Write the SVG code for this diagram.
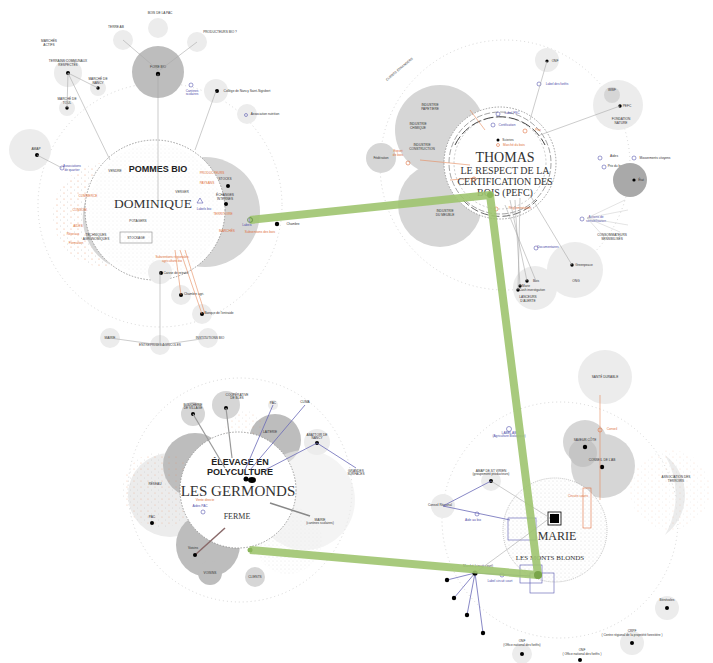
<svg xmlns="http://www.w3.org/2000/svg" width="713" height="663" viewBox="0 0 713 663">
<style>
.t{font-family:"Liberation Sans",Arial,sans-serif;fill:#333;font-size:3.2px;text-anchor:middle}
.tb{fill:#4a4aa8}.to{fill:#e0703a}
.big{font-family:"Liberation Serif","Times New Roman",serif;fill:#333;text-anchor:middle}
.hd{font-family:"Liberation Sans",Arial,sans-serif;font-weight:bold;fill:#222;text-anchor:middle}
.g1{fill:#ececec}.g2{fill:#d6d6d6}.g3{fill:#bdbdbd}.g4{fill:#a9a9a9}
.dot{fill:#000}
.ring{fill:#fff;stroke:#888;stroke-width:0.8;stroke-dasharray:1.5 1.5}
.orb{fill:none;stroke:#ccc;stroke-width:0.8;stroke-dasharray:1 3}
.ln{stroke:#aaa;stroke-width:0.6;fill:none}
.lb{stroke:#6a6ab8;stroke-width:0.8;fill:none}
.lo{stroke:#e58a5a;stroke-width:0.6;fill:none}
.oc{fill:none;stroke:#e07040;stroke-width:0.6}
.bc{fill:none;stroke:#5858b0;stroke-width:0.6}
.green{stroke:#9fc46f;stroke-width:8;fill:none;stroke-linejoin:round;opacity:0.9}
</style>
<defs>
<pattern id="od" width="7" height="6" patternUnits="userSpaceOnUse"><circle cx="1" cy="1" r="0.6" fill="#e58a5a"/><circle cx="4.5" cy="4" r="0.5" fill="#bbb"/></pattern>
<pattern id="gd" width="4" height="4" patternUnits="userSpaceOnUse"><circle cx="1" cy="1" r="0.5" fill="#999"/><circle cx="3" cy="3" r="0.4" fill="#bbb"/></pattern>
</defs>
<rect width="713" height="663" fill="#fff"/>

<!-- orbits -->
<g id="orbits">
<circle class="orb" cx="160" cy="205" r="122"/>
<circle class="orb" cx="505" cy="165" r="125"/>
<circle class="orb" cx="240" cy="490" r="112"/>
<circle class="orb" cx="560" cy="520" r="118"/>
</g>

<!-- Dominique node -->
<g id="dominique">
<circle cx="205" cy="212" r="55" class="g2"/>
<circle cx="105" cy="215" r="52" fill="url(#od)" opacity="0.7"/>
<path d="M110,170 A70,70 0 0 0 110,265 A55,55 0 0 1 110,170Z" class="g2"/>
<circle cx="155" cy="210" r="70" class="ring"/>
<circle cx="155" cy="210" r="66" fill="url(#gd)" opacity="0.25"/>
<text class="hd" x="158" y="172" font-size="9">POMMES BIO</text>
<text class="big" x="153" y="208" font-size="13.5">DOMINIQUE</text>
<text class="t" x="182" y="193" font-size="4.5">VERGER</text>
<text class="t" x="138" y="222" font-size="4.5">POTAGERS</text>
<rect x="120" y="232" width="32" height="11" fill="none" stroke="#999" stroke-width="0.7"/>
<text class="t" x="136" y="239" font-size="3.5">STOCKAGE</text>
<text class="t" x="115" y="172">VENDRE</text>
<g><text class="t to" x="88" y="197">COMMERCE</text><text class="t to" x="80" y="211">CONSOM.</text><text class="t to" x="78" y="227">AIDES</text><text class="t to" x="73" y="235">Réseaux</text><text class="t to" x="76" y="244">Formation</text><text class="t to" x="212" y="174">PRODUCTEURS</text><text class="t to" x="207" y="184">PAYSANS</text><text class="t to" x="223" y="215">TERRITOIRE</text><text class="t to" x="227" y="232">MARCHÉS</text></g>
<text class="t" x="225" y="180">STOCKS</text><circle cx="228" cy="186" r="2" class="dot"/>
<text class="t" x="225" y="196">ÉCHANGES</text><text class="t" x="225" y="200">INTERNES</text><circle cx="226" cy="204" r="2" class="dot"/>
<text class="t" x="96" y="236">TECHNIQUES</text><text class="t" x="96" y="240">AGRONOMIQUES</text>
<path d="M197,203 l3,-5 l3,5z" fill="none" stroke="#5858b0" stroke-width="0.6"/>
<text class="t tb" x="204" y="210">Labels bio</text>
</g>

<!-- Dominique satellites -->
<g id="dom-sat">
<circle cx="158" cy="72" r="26" class="g3"/>
<circle cx="158" cy="74" r="2.2" class="dot"/>
<text class="t" x="158" y="68">FOIRE BIO</text>
<circle cx="123" cy="40" r="10" class="g1"/><text class="t" x="116" y="28">TERRE AB</text>
<circle cx="158" cy="28" r="10" class="g1"/><text class="t" x="160" y="14">BOIS DE LA PAC</text>
<circle cx="197" cy="42" r="10" class="g1"/><text class="t" x="220" y="33">PRODUCTEURS BIO ?</text>
<text class="t" x="49" y="42">MARCHÉS</text><text class="t" x="49" y="46">ACTIFS</text>
<circle cx="68" cy="73" r="14" class="g1"/><circle cx="68" cy="73" r="2" class="dot"/>
<text class="t" x="68" y="62">TERRAINS COMMUNAUX</text><text class="t" x="68" y="66">RESPECTÉS</text>
<circle cx="98" cy="88" r="8" class="g1"/><circle cx="98" cy="88" r="1.7" class="dot"/><text class="t" x="98" y="80">MARCHÉ DE</text><text class="t" x="98" y="84">NANCY</text>
<circle cx="67" cy="108" r="8" class="g1"/><circle cx="67" cy="108" r="1.7" class="dot"/><text class="t" x="67" y="100">MARCHÉ DE</text><text class="t" x="67" y="104">TOUL</text>
<circle cx="30" cy="150" r="21" class="g1"/><circle cx="37" cy="155" r="2" class="dot"/><text class="t" x="36" y="150">AMAP</text>
<circle cx="62" cy="168" r="2" class="bc"/><text class="t tb" x="72" y="167">Associations</text><text class="t tb" x="72" y="171">de quartier</text>
<circle cx="216" cy="91" r="12" class="g1"/><circle cx="217" cy="91" r="2" class="dot"/><text class="t" x="247" y="92">Collège de Nancy Saint-Sigisbert</text>
<circle cx="191" cy="85" r="2" class="bc"/><text class="t tb" x="192" y="92">Cantines</text><text class="t tb" x="192" y="95">scolaires</text>
<circle cx="247" cy="114" r="10" class="g1"/><circle cx="246" cy="115" r="1.5" class="bc"/><text class="t" x="265" y="115">Association nutrition</text>
<circle cx="160" cy="272" r="12" class="g1"/><circle cx="161" cy="273" r="2" class="dot"/><text class="t" x="176" y="274">Caisse de retraite</text>
<circle cx="181" cy="295" r="10" class="g1"/><circle cx="181" cy="295" r="2" class="dot"/><text class="t" x="194" y="295">Chambre agri.</text>
<circle cx="202" cy="314" r="10" class="g1"/><circle cx="202" cy="314" r="2" class="dot"/><text class="t" x="219" y="314">Banque de l'entraide</text>
<circle cx="110" cy="338" r="10" class="g1"/><text class="t" x="110" y="339">MAIRIE</text>
<circle cx="160" cy="345" r="10" class="g1"/><text class="t" x="160" y="346">ENTREPRISES AGRICOLES</text>
<circle cx="208" cy="338" r="10" class="g1"/><text class="t" x="210" y="339">INSTITUTIONS BIO</text>
<text class="t to" x="172" y="258">Subventions régionales</text><text class="t to" x="172" y="262">agriculture bio</text>
</g>

<!-- Thomas node -->
<g id="thomas">
<circle cx="440" cy="130" r="45" class="g2"/>
<circle cx="440" cy="205" r="42" class="g2"/>
<circle cx="381" cy="158" r="15" class="g2"/><text class="t" x="381" y="159">Fédération</text>
<circle cx="500" cy="163" r="56" fill="#fff"/>
<circle cx="500" cy="163" r="56" class="ring"/>
<circle cx="500" cy="163" r="51" fill="none" stroke="#666" stroke-width="0.6" stroke-dasharray="6 2"/>
<circle cx="500" cy="163" r="46" fill="none" stroke="#999" stroke-width="0.5" stroke-dasharray="2 2"/>
<path d="M455,145 A50,50 0 0 1 545,145" fill="none" stroke="#444" stroke-width="1" stroke-dasharray="10 3"/>
<path d="M463,200 A50,50 0 0 0 537,200" fill="none" stroke="#444" stroke-width="0.8" stroke-dasharray="8 3"/>
<g class="lo"><path d="M420,160 L470,165"/><path d="M450,180 L475,178"/><path d="M470,110 L485,130"/></g>
<text class="big" x="505" y="162" font-size="14">THOMAS</text>
<text class="big" x="505" y="174" font-size="10">LE RESPECT DE LA</text>
<text class="big" x="505" y="185" font-size="10">CERTIFICATION DES</text>
<text class="big" x="505" y="196" font-size="10">BOIS (PEFC)</text>
<text class="t" x="430" y="106">INDUSTRIE</text><text class="t" x="430" y="110">PAPETIERE</text>
<text class="t" x="418" y="125">INDUSTRIE</text><text class="t" x="418" y="129">CHIMIQUE</text>
<text class="t" x="422" y="146">INDUSTRIE</text><text class="t" x="422" y="150">CONSTRUCTION</text>
<text class="t" x="445" y="212">INDUSTRIE</text><text class="t" x="445" y="216">DU MEUBLE</text>
<circle cx="498" cy="140" r="1.5" class="dot"/><text class="t" x="508" y="141">Scieries</text>
<circle cx="498" cy="145" r="1.5" class="oc"/><text class="t to" x="514" y="146">Marché du bois</text>
<circle cx="498" cy="114" r="2" class="bc"/><text class="t tb" x="512" y="114">Label FSC</text>
<circle cx="493" cy="125" r="2" class="bc"/><text class="t tb" x="507" y="126">Certification</text>
<circle cx="525" cy="131" r="2" class="oc"/><text class="t to" x="538" y="131">Prix</text>
<circle cx="408" cy="163" r="2" class="oc"/><text class="t to" x="398" y="152">Export</text><text class="t to" x="398" y="156">de bois</text>
<circle cx="496" cy="209" r="2" class="oc"/><text class="t to" x="520" y="209">Réglementation</text>
<circle cx="474" cy="179" r="2" class="oc"/>
<circle cx="600" cy="158" r="2" class="bc"/><text class="t" x="614" y="157">Aides</text>
<circle cx="604" cy="167" r="2" class="bc"/><text class="t" x="616" y="167">Prix du bois</text>
<circle cx="634" cy="158" r="2" class="bc"/><text class="t" x="655" y="159">Mouvements citoyens</text>
</g>

<!-- Thomas satellites -->
<g id="thomas-sat">
<circle cx="547" cy="60" r="12" class="g1"/><circle cx="547" cy="61" r="1.6" class="dot"/><text class="t" x="555" y="62">ONF</text>
<circle cx="539" cy="84" r="2" class="bc"/><text class="t tb" x="557" y="85">Label des forêts</text>
<circle cx="618" cy="105" r="25" class="g1"/><circle cx="612" cy="95" r="8" class="g2"/><circle cx="620" cy="106" r="1.7" class="dot"/>
<text class="t" x="612" y="91">WWF</text><text class="t" x="627" y="107">PEFC</text><text class="t" x="621" y="120">FONDATION</text><text class="t" x="621" y="124">NATURE</text>
<circle cx="630" cy="180" r="17" class="g4"/><circle cx="634" cy="180" r="1.6" class="dot"/><text class="t" x="641" y="181">État</text>
<circle cx="535" cy="288" r="22" class="g1"/><circle cx="527" cy="281" r="1.7" class="dot"/><circle cx="520" cy="286" r="1.7" class="dot"/><circle cx="518" cy="290" r="1.7" class="dot"/>
<text class="t" x="536" y="282">Bois</text><text class="t" x="526" y="287">Marie</text><text class="t" x="532" y="291">Cash investigation</text><text class="t" x="528" y="298">LANCEURS</text><text class="t" x="528" y="302">D'ALERTE</text>
<circle cx="575" cy="270" r="28" class="g1"/><circle cx="572" cy="265" r="1.7" class="dot"/><text class="t" x="584" y="266">Greenpeace</text><text class="t" x="576" y="282">ONG</text>
<circle cx="536" cy="248" r="2" class="bc"/><text class="t tb" x="548" y="248">Documentaires</text>
<circle cx="582" cy="219" r="2" class="bc"/><text class="t tb" x="596" y="218">Actions de</text><text class="t tb" x="596" y="222">sensibilisation</text>
<g stroke="#bbb" stroke-width="0.4"><path d="M587,218 L625,200 M587,218 L628,210 M587,218 L628,225 M587,218 L620,232 M587,218 L605,238"/></g>
<text class="t" x="612" y="236">CONSOMMATEURS</text><text class="t" x="612" y="240">SENSIBILISÉS</text>
<g class="ln"><path d="M530,120 L547,61"/><path d="M540,135 L620,106"/><path d="M510,200 L527,281"/><path d="M515,200 L520,286"/><path d="M520,198 L518,290"/><path d="M530,195 L572,265"/><path d="M505,205 L536,281"/></g>
<text class="t" x="400" y="70" transform="rotate(-40 400 70)">CLIENTS ÉTRANGERS</text>
</g>

<!-- Germonds node -->
<g id="germonds">
<circle cx="170" cy="495" r="42" class="g1"/>
<circle cx="195" cy="465" r="32" class="g3"/>
<circle cx="160" cy="490" r="38" fill="url(#od)" opacity="0.5"/>
<circle cx="275" cy="440" r="26" class="g3"/>
<circle cx="245" cy="430" r="20" fill="url(#od)" opacity="0.4"/>
<circle cx="208" cy="545" r="32" class="g3"/>
<circle cx="288" cy="540" r="34" fill="url(#gd)" opacity="0.3"/>
<circle cx="305" cy="500" r="50" class="g1" opacity="0.6"/>
<circle cx="238" cy="490" r="58" fill="#fff"/>
<circle cx="238" cy="490" r="58" fill="url(#od)" opacity="0.35"/>
<circle cx="238" cy="490" r="58" class="ring" fill="none"/>
<text class="hd" x="240" y="465" font-size="9">ÉLEVAGE EN</text>
<text class="hd" x="240" y="475" font-size="9">POLYCULTURE</text>
<ellipse cx="252" cy="480" rx="4" ry="3" fill="#000"/><ellipse cx="246" cy="479" rx="2.5" ry="2.5" fill="#000"/>
<text class="big" x="238" y="496" font-size="15">LES GERMONDS</text>
<text class="big" x="237" y="519" font-size="8">FERME</text>
<text class="t to" x="205" y="501">Vente directe</text>
<circle cx="203" cy="512" r="2" class="bc"/><text class="t tb" x="200" y="507">Aides PAC</text>
<path d="M270,503 L310,516" stroke="#888" stroke-width="1.5"/>
<text class="t" x="320" y="521">MAIRIE</text><text class="t" x="320" y="524">(cantines scolaires)</text>
<path d="M195,555 L225,528" stroke="#8a6a6a" stroke-width="1.5"/>
</g>

<!-- Germonds satellites -->
<g id="germonds-sat">
<circle cx="193" cy="414" r="12" class="g2"/><circle cx="193" cy="414" r="2" class="dot"/><text class="t" x="193" y="406">BOUCHERIE</text><text class="t" x="193" y="409">DE VILLAGE</text>
<circle cx="226" cy="405" r="14" class="g2"/><circle cx="226" cy="408" r="2" class="dot"/><text class="t" x="237" y="396">COOPÉRATIVE</text><text class="t" x="237" y="399">DE BLÉS</text>
<circle cx="273" cy="405" r="5" class="g1"/><text class="t" x="273" y="404">PAC</text>
<circle cx="305" cy="405" r="4" fill="#fff"/><text class="t" x="305" y="403">CUMA</text>
<text class="t" x="270" y="433">LAITERIE</text>
<circle cx="317" cy="442" r="13" class="g1"/><circle cx="317" cy="443" r="2" class="dot"/><text class="t" x="317" y="436">ABATTOIR DE</text><text class="t" x="317" y="439">NANCY</text>
<text class="t" x="356" y="472">GRANDES</text><text class="t" x="356" y="475">SURFACES</text>
<text class="t" x="155" y="485">RÉSEAU</text>
<circle cx="152" cy="523" r="2" class="dot"/><text class="t" x="152" y="518">PAC</text>
<circle cx="195" cy="555" r="2" class="dot"/><text class="t" x="193" y="549">Voisins</text>
<circle cx="210" cy="573" r="12" class="g3"/><text class="t" x="210" y="574">VOISINS</text>
<circle cx="255" cy="577" r="10" class="g2"/><text class="t" x="255" y="578">CLIENTS</text>
<g class="lb"><path d="M273,405 L245,470"/><path d="M305,405 L250,470"/><path d="M317,443 L265,470"/><path d="M317,443 L356,468"/></g>
<g stroke="#999" stroke-width="1.2"><path d="M193,414 L225,468"/><path d="M226,408 L232,458"/></g>
</g>

<!-- Marie node -->
<g id="marie">
<circle cx="605" cy="377" r="27" class="g1"/><text class="t" x="605" y="378">SANTÉ DURABLE</text>
<circle cx="585" cy="442" r="22" class="g2"/>
<circle cx="603" cy="466" r="32" class="g2"/>
<circle cx="583" cy="453" r="14" class="g3" opacity="0.7"/>
<circle cx="585" cy="447" r="2.2" class="dot"/><text class="t" x="585" y="441">SAVEUR CÔTE</text>
<circle cx="602" cy="467" r="2.2" class="dot"/><text class="t" x="602" y="461">CONSEIL DE L'AB</text>
<circle cx="600" cy="430" r="2" class="oc"/><text class="t to" x="612" y="430">Conseil</text>
<path d="M600,395 L600,500" class="lo"/>
<path d="M665,455 A50,50 0 0 1 665,535 A80,80 0 0 0 665,455Z" class="g1"/>
<circle cx="670" cy="490" r="40" fill="url(#od)" opacity="0.3"/>
<text class="t" x="676" y="478">ASSOCIATION DES</text><text class="t" x="676" y="482">TERROIRS</text>
<circle cx="555" cy="530" r="52" fill="#fff"/>
<circle cx="555" cy="530" r="52" fill="url(#gd)" opacity="0.45"/>
<circle cx="555" cy="530" r="52" fill="none" stroke="#999" stroke-width="0.6" stroke-dasharray="1 1"/>
<rect x="508" y="518" width="28" height="22" fill="none" stroke="#5858b0" stroke-width="0.6"/>
<rect x="520" y="565" width="22" height="18" fill="none" stroke="#5858b0" stroke-width="0.6"/>
<rect x="530" y="573" width="24" height="20" fill="none" stroke="#5858b0" stroke-width="0.6"/>
<rect x="583" y="488" width="8" height="40" fill="none" stroke="#e07040" stroke-width="0.6"/>
<text class="t to" x="578" y="497">Circuits courts</text>
<rect x="550" y="514" width="9" height="9" fill="#000"/><rect x="548" y="512" width="13" height="13" fill="none" stroke="#000" stroke-width="0.8"/>
<text class="big" x="557" y="540" font-size="12">MARIE</text>
<text class="big" x="550" y="560" font-size="7">LES MONTS BLONDS</text>
</g>

<!-- Marie satellites -->
<g id="marie-sat">
<circle cx="509" cy="429" r="2.5" class="bc"/><text class="t tb" x="509" y="434">LABEL AB</text><text class="t tb" x="509" y="437">(Agriculture Biologique)</text>
<circle cx="491" cy="481" r="10" class="g1"/><circle cx="491" cy="481" r="2" class="dot"/><text class="t" x="491" y="472">AMAP DE ST VIRIEN</text><text class="t" x="491" y="475">(groupement producteurs)</text>
<circle cx="443" cy="506" r="12" class="g1"/><text class="t" x="440" y="506">Conseil Régional</text>
<circle cx="477" cy="514" r="2" class="bc"/><text class="t tb" x="473" y="521">Aide au bio</text>
<g class="lb"><path d="M475,573 L447,580"/><path d="M475,573 L454,598"/><path d="M475,573 L467,615"/><path d="M475,573 L483,633"/><path d="M475,573 L530,576"/><path d="M491,481 L443,506"/><path d="M443,506 L510,520"/></g>
<circle cx="475" cy="573" r="2.6" class="dot"/><text class="t" x="478" y="567">Marché (circuit court)</text>
<circle cx="447" cy="580" r="2.2" class="dot"/><circle cx="454" cy="598" r="2.2" class="dot"/><circle cx="467" cy="615" r="2.2" class="dot"/><circle cx="483" cy="633" r="2.2" class="dot"/>
<circle cx="502" cy="575" r="2" class="bc"/><text class="t tb" x="500" y="582">Label circuit court</text>
<path d="M491,481 L550,518" class="ln"/>
<path d="M475,573 L550,518" class="ln"/>
<circle cx="667" cy="608" r="12" class="g1"/><circle cx="667" cy="608" r="2" class="dot"/><text class="t" x="667" y="601">Bénévoles</text>
<circle cx="632" cy="643" r="12" class="g1"/><circle cx="632" cy="643" r="2" class="dot"/><text class="t" x="632" y="632">CRPF</text><text class="t" x="632" y="636">( Centre régional de la propriété forestière )</text>
<circle cx="522" cy="654" r="10" class="g1"/><circle cx="522" cy="654" r="2" class="dot"/><text class="t" x="522" y="642">ONF</text><text class="t" x="522" y="646">(Office national des forêts)</text>
<circle cx="580" cy="660" r="2" class="dot"/><text class="t" x="582" y="651">ONF</text><text class="t" x="582" y="655">( Office national des forêts )</text>
</g>

<!-- connectors -->
<g id="connectors">
<g class="ln">
<path d="M158,74 L158,200"/><path d="M123,40 L158,70"/><path d="M197,42 L160,70"/><path d="M68,73 L98,88"/><path d="M68,73 L67,108"/><path d="M68,73 L110,160"/><path d="M37,155 L62,168"/><path d="M216,91 L195,150"/><path d="M160,272 L160,345"/><path d="M110,338 L160,345 L208,338"/>
</g>
<g class="lo"><path d="M175,250 L181,295"/><path d="M180,250 L202,314"/><path d="M185,250 L205,314"/></g>
<circle cx="277" cy="224" r="2.2" class="dot"/><text class="t" x="293" y="225">Chambre</text>
<text class="t to" x="260" y="233">Subventions des bois</text>
<circle cx="251" cy="220" r="2" class="bc"/><text class="t tb" x="247" y="226">Labels</text>
<path d="M250,220 L490,195 L538,575 L250,550" class="green"/>
<circle cx="250" cy="220" r="2.5" fill="none" stroke="#5a8a3a" stroke-width="0.7"/>
<circle cx="490" cy="195" r="3" fill="#8ab55a"/>
<circle cx="538" cy="575" r="4" fill="#7aa54a"/>
<circle cx="250" cy="550" r="2.5" fill="#8ab55a"/>
</g>
</svg>
